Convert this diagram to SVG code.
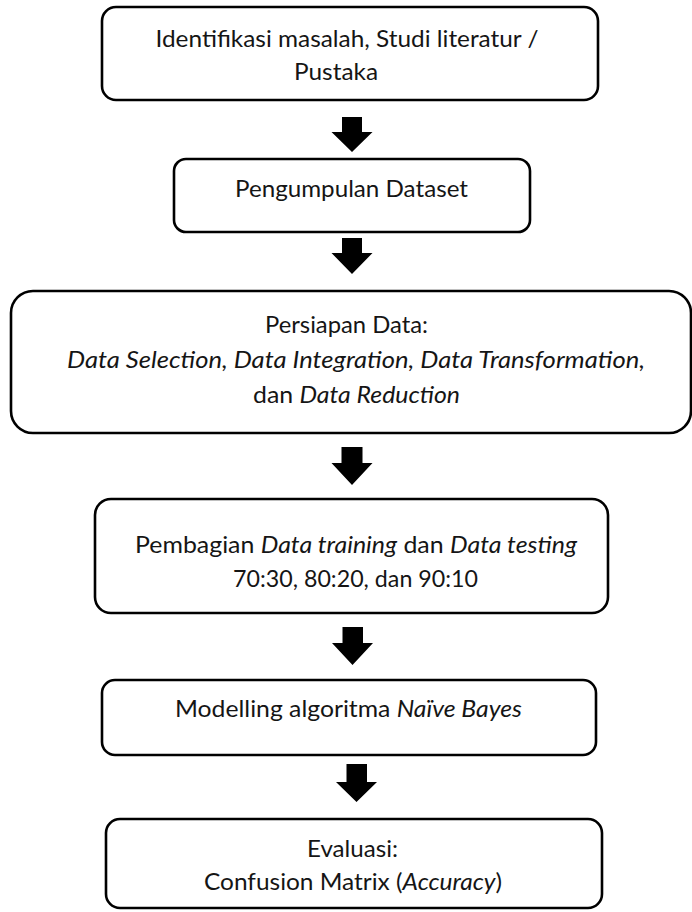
<svg xmlns="http://www.w3.org/2000/svg" width="692" height="912" viewBox="0 0 692 912">
<style>
.box{fill:#fff;stroke:#000;stroke-width:2.6}
.t{font-family:Lato,"Liberation Sans",sans-serif;font-size:23.5px;fill:#151515;text-anchor:middle}
.i{font-style:italic}
.arr{fill:#000}
</style>
<rect width="692" height="912" fill="#fff"/>
<g id="n1">
<rect class="box" x="102" y="7" width="496" height="93" rx="14"/>
<text class="t" x="347" y="47" textLength="383" lengthAdjust="spacingAndGlyphs">Identifikasi masalah, Studi literatur /</text>
<text class="t" x="336" y="80" textLength="84" lengthAdjust="spacingAndGlyphs">Pustaka</text>
</g>
<g id="n2">
<rect class="box" x="174" y="159" width="356" height="73" rx="12"/>
<text class="t" x="351.5" y="197" textLength="233" lengthAdjust="spacingAndGlyphs">Pengumpulan Dataset</text>
</g>
<g id="n3">
<rect class="box" x="11" y="291" width="680" height="142" rx="22"/>
<text class="t" x="346.5" y="333" textLength="163" lengthAdjust="spacingAndGlyphs">Persiapan Data:</text>
<text class="t i" x="356" y="368" textLength="578" lengthAdjust="spacingAndGlyphs">Data Selection, Data Integration, Data Transformation,</text>
<text class="t" x="356.5" y="403" textLength="207" lengthAdjust="spacingAndGlyphs">dan <tspan class="i">Data Reduction</tspan></text>
</g>
<g id="n4">
<rect class="box" x="95" y="499" width="513" height="114" rx="16"/>
<text class="t" x="356" y="553" textLength="442" lengthAdjust="spacingAndGlyphs">Pembagian <tspan class="i">Data training</tspan> dan <tspan class="i">Data testing</tspan></text>
<text class="t" x="355.5" y="587" textLength="245" lengthAdjust="spacingAndGlyphs">70:30, 80:20, dan 90:10</text>
</g>
<g id="n5">
<rect class="box" x="102" y="680" width="494" height="75" rx="13"/>
<text class="t" x="348.5" y="717" textLength="347" lengthAdjust="spacingAndGlyphs">Modelling algoritma <tspan class="i">Naïve Bayes</tspan></text>
</g>
<g id="n6">
<rect class="box" x="106" y="819" width="496" height="89" rx="14"/>
<text class="t" x="352.5" y="857" textLength="91" lengthAdjust="spacingAndGlyphs">Evaluasi:</text>
<text class="t" x="353" y="890" textLength="298" lengthAdjust="spacingAndGlyphs">Confusion Matrix (<tspan class="i">Accuracy</tspan>)</text>
</g>
<g id="connectors">
<polygon class="arr" points="342,117 362,117 362,132 372.5,132 352,152 331.5,132 342,132"/>
<polygon class="arr" points="342,238 362,238 362,253 372.5,253 352,274 331.5,253 342,253"/>
<polygon class="arr" points="341.5,447 362.5,447 362.5,463 372.5,463 352,485 331.5,463 341.5,463"/>
<polygon class="arr" points="342.5,627 363,627 363,643 373,643 352.5,665 332,643 342.5,643"/>
<polygon class="arr" points="346.5,764 367,764 367,782 377,782 356.5,802 336,782 346.5,782"/>
</g>
</svg>
